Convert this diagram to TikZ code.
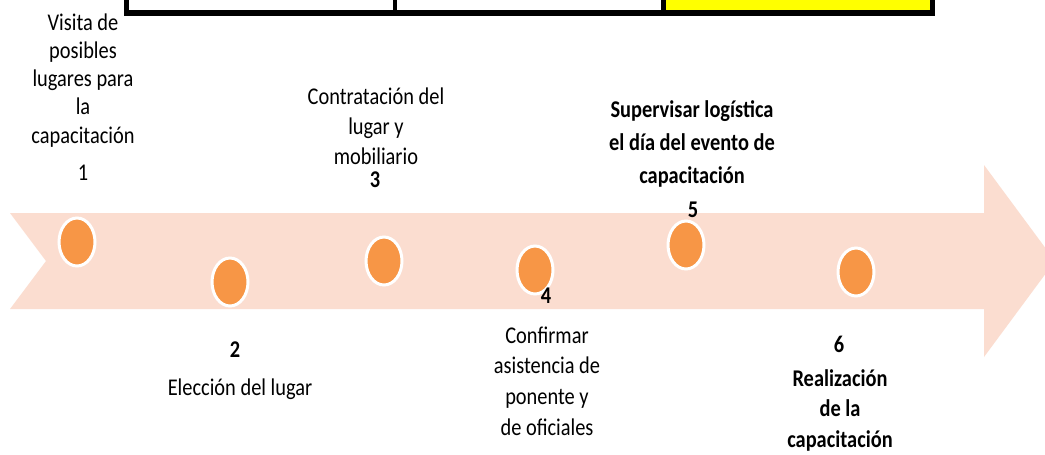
\documentclass[tikz,border=0pt]{standalone}
\usepackage{fontspec}
\newfontfamily\cf[FakeStretch=0.85]{Carlito}
\definecolor{band}{RGB}{251,221,208}
\definecolor{dot}{RGB}{247,150,70}
\definecolor{cellyellow}{RGB}{255,255,0}
\begin{document}
\begin{tikzpicture}[x=1pt,y=-1pt,
  dotstyle/.style={ellipse,draw=white,line width=3pt,fill=dot,minimum width=36pt,minimum height=48pt,inner sep=0pt},
  lbl/.style={inner sep=0pt,anchor=base,font={\cf\fontsize{24}{28}\selectfont}},
  blk/.style={inner sep=0pt,anchor=north,align=center,font={\cf\fontsize{24}{#1}\selectfont}},
  blkb/.style={inner sep=0pt,anchor=north,align=center,font={\cf\bfseries\fontsize{24}{#1}\selectfont}}
]
\usetikzlibrary{shapes.geometric}
\useasboundingbox (0,0) rectangle (1045,455);
\fill[white] (0,0) rectangle (1045,455);
% top table fragment
\fill[cellyellow] (666,0) rectangle (930,10);
\fill[black] (124,10) rectangle (935,16);
\fill[black] (124,0) rectangle (129,16);
\fill[black] (393,0) rectangle (397,16);
\fill[black] (661,0) rectangle (666,16);
\fill[black] (930,0) rectangle (935,16);
% band arrow
\fill[band] (10,213) -- (984,213) -- (984,165) -- (1055,261) -- (984,357) -- (984,309) -- (10,309) -- (46,261) -- cycle;
% dots
\node[dotstyle] (c1) at (77,242) {};
\node[dotstyle] (c2) at (230,282) {};
\node[dotstyle] (c3) at (384,261) {};
\node[dotstyle] (c4) at (535,270) {};
\node[dotstyle] (c5) at (686,245) {};
\node[dotstyle] (c6) at (856,272) {};
% texts
\node[blk=28.25] (t1) at (83,{30-0.7*28.25}) {\strut Visita de\\posibles\\lugares para\\la\\capacitación};
\node[lbl] (n1) at (83,180) {1};
\node[blk=30] (t3) at (376,{104-0.7*30}) {\strut Contratación del\\lugar y\\mobiliario};
\node[lbl,font={\cf\bfseries\fontsize{24}{28}\selectfont}] (n3) at (375,187) {3};
\node[blkb=33] (t5) at (692,{117-0.7*33}) {\strut Supervisar logística\\el día del evento de\\capacitación};
\node[lbl,font={\cf\bfseries\fontsize{24}{28}\selectfont}] (n5) at (693,217) {5};
\node[lbl,font={\cf\bfseries\fontsize{24}{28}\selectfont}] (n2) at (235,357) {2};
\node[lbl] (t2) at (240,395) {Elección del lugar};
\node[lbl,font={\cf\bfseries\fontsize{24}{28}\selectfont}] (n4) at (546,303) {4};
\node[blk=30.7] (t4) at (547,{343-0.7*30.7}) {\strut Confirmar\\asistencia de\\ponente y\\de oficiales};
\node[lbl,font={\cf\bfseries\fontsize{24}{28}\selectfont}] (n6) at (839,352) {6};
\node[blkb=30.5] (t6) at (840,{386-0.7*30.5}) {\strut Realización\\de la\\capacitación};
\end{tikzpicture}
\end{document}
